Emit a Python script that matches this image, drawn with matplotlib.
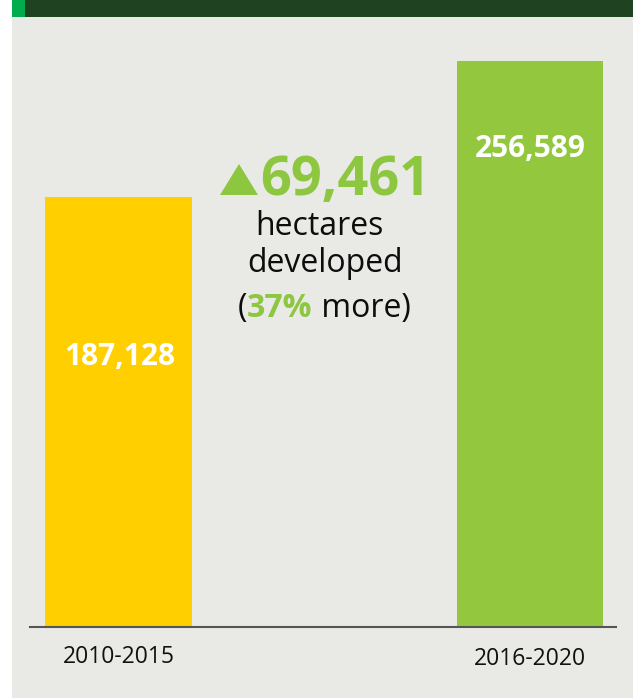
import matplotlib
matplotlib.use("Agg")
import matplotlib.pyplot as plt
import matplotlib.transforms as mtransforms
from matplotlib.patches import Rectangle, Polygon

# ---- data ----
periods = ["2010-2015", "2016-2020"]
hectares = [187128, 256589]
value_labels = ["187,128", "256,589"]
increase_label = "69,461"
pct_label = "37%"

# ---- styles ----
W, H = 633, 698
BAR_COLORS = ["#ffcf00", "#92c73e"]
GREEN_TXT = "#8dc63f"
PANEL = "#e9e9e5"
BAND = "#1f4321"
BRIGHT = "#00ac4e"
BASE = -32500  # visual axis floor

plt.rcParams['font.family'] = ['Open Sans', 'DejaVu Sans']

fig = plt.figure(figsize=(W / 100, H / 100), dpi=100)
fig.patch.set_facecolor("white")

def fx(x):
    return x / W

def fy(y):
    return 1 - y / H

# background panel and top band
fig.patches.append(Rectangle((fx(12), 0), 1 - fx(12), fy(17), transform=fig.transFigure,
                             facecolor=PANEL, edgecolor="none", zorder=-2))
fig.patches.append(Rectangle((fx(12), fy(17)), 1 - fx(12), 17 / H, transform=fig.transFigure,
                             facecolor=BAND, edgecolor="none", zorder=-2))
fig.patches.append(Rectangle((fx(12), fy(17)), 13 / W, 17 / H, transform=fig.transFigure,
                             facecolor=BRIGHT, edgecolor="none", zorder=-1))

ax = fig.add_axes([fx(30), fy(627), fx(616) - fx(30), (627 - 61) / H])
ax.set_zorder(1)
ax.set_facecolor("none")
x = list(range(len(periods)))
ax.bar(x, [v - BASE for v in hectares], bottom=BASE, width=0.355, color=BAR_COLORS, zorder=2)
ax.set_xlim(-0.215, 1.209)
ax.set_ylim(BASE, hectares[1])
for s in ["top", "left", "right"]:
    ax.spines[s].set_visible(False)
ax.spines["bottom"].set_color("#555555")
ax.spines["bottom"].set_linewidth(1.5)
ax.spines["bottom"].set_zorder(3)
ax.set_yticks([])
ax.set_xticks(x)
ax.set_xticklabels(periods, fontsize=16.5, color="#111111")
ax.tick_params(axis="x", length=0, pad=13)
# second label sits slightly lower in the reference
lbl = ax.get_xticklabels()[1]
lbl.set_transform(lbl.get_transform() + mtransforms.ScaledTranslation(0, -2 / 100, fig.dpi_scale_trans))

# value labels inside bars
label_baselines = [365, 157]
for i, (lab, yb) in enumerate(zip(value_labels, label_baselines)):
    fig.text(fx([119.5, 530][i]), fy(yb), lab, ha="center", va="baseline",
             fontsize=21.5, fontweight="bold", color="white", zorder=5)

# central annotation
fig.patches.append(Polygon([(fx(220), fy(195)), (fx(258), fy(195)), (fx(239), fy(164))],
                           closed=True, transform=fig.transFigure,
                           facecolor=GREEN_TXT, edgecolor="none", zorder=5))
fig.text(fx(345), fy(195), increase_label, ha="center", va="baseline",
         fontsize=39, fontweight="bold", color=GREEN_TXT, zorder=5)
fig.text(fx(319), fy(235), "hectares", ha="center", va="baseline", fontsize=23, color="#0d0d0d", zorder=5)
fig.text(fx(325), fy(272), "developed", ha="center", va="baseline", fontsize=23, color="#0d0d0d", zorder=5)

renderer = fig.canvas.get_renderer()
parts = [("(", "normal", "#0d0d0d"), (pct_label, "bold", GREEN_TXT), (" more)", "normal", "#0d0d0d")]
texts = []
for s, w, c in parts:
    t = fig.text(0, fy(317), s, ha="left", va="baseline", fontsize=23, fontweight=w, color=c, zorder=5)
    texts.append(t)
widths = [t.get_window_extent(renderer).width for t in texts]
total = sum(widths)
cur = 324 - total / 2
for t, wdt in zip(texts, widths):
    t.set_x(fx(cur))
    cur += wdt

fig.savefig("out.png", dpi=100, facecolor=fig.get_facecolor())
